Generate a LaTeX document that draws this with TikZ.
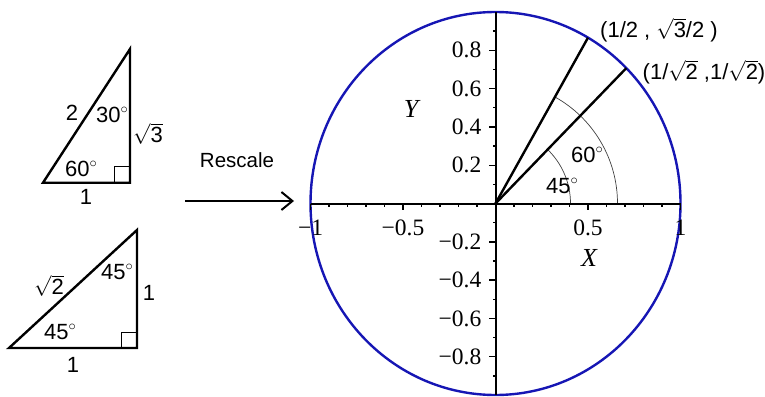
\documentclass[tikz,border=0pt]{standalone}
\usepackage{fontspec}
\setmainfont{Liberation Serif}
\newfontfamily\arialf{Liberation Sans}
\usetikzlibrary{arrows.meta}
\definecolor{circblue}{RGB}{22,22,180}
\newcommand{\degsym}{\raisebox{0.42em}{\fontsize{15}{15}\selectfont\(\circ\)}}
\newcommand{\sqrtx}[1]{\(\sqrt{\hbox{#1}}\)}
\begin{document}
\begin{tikzpicture}[x=1pt,y=-1pt,
  tri/.style={line width=2.4pt, line join=miter},
  rsq/.style={line width=0.8pt},
  lab/.style={font=\arialf\fontsize{22}{22}\selectfont, inner sep=0pt},
  rlab/.style={font=\arialf\fontsize{20.5}{20.5}\selectfont, inner sep=0pt},
  clab/.style={font=\arialf\fontsize{22}{22}\selectfont, inner sep=0pt},
  axl/.style={font=\fontsize{23.5}{23.5}\selectfont, inner sep=0pt},
  varl/.style={font=\itshape\fontsize{26}{26}\selectfont, inner sep=0pt},
  axisline/.style={line width=2pt},
  ray/.style={line width=2.4pt},
  thinarc/.style={line width=0.7pt, black!75},
  circ/.style={circblue, line width=2.4pt},
  tick/.style={line width=1.4pt}]
\useasboundingbox (0,0) rectangle (765,396);

% ---------- triangle 30-60-90 ----------
\coordinate (A1) at (43,182.7);
\coordinate (B1) at (130,182.7);
\coordinate (C1) at (130,49);
\draw[tri] (A1) -- (B1) -- (C1) -- cycle;
\draw[rsq] (114,182.7) -- (114,166.7) -- (130,166.7);
\node[lab] (t1hyp) at (72,113) {2};
\node[lab] (t1a30) at (112,115) {30\degsym};
\node[lab] (t1s3) at (148,134) {\sqrtx{3}};
\node[lab] (t1a60) at (81,169) {60\degsym};
\node[lab] (t1b) at (86,197) {1};

% ---------- triangle 45-45-90 ----------
\coordinate (A2) at (9,348);
\coordinate (B2) at (137,348);
\coordinate (C2) at (137,230);
\draw[tri] (A2) -- (B2) -- (C2) -- cycle;
\draw[rsq] (121,348) -- (121,332) -- (137,332);
\node[lab] (t2hyp) at (49,286) {\sqrtx{2}};
\node[lab] (t2a1) at (117,272) {45\degsym};
\node[lab] (t2r) at (149,293) {1};
\node[lab] (t2a2) at (60,332) {45\degsym};
\node[lab] (t2b) at (73,365) {1};

% ---------- arrow ----------
\coordinate (arrS) at (185,201);
\coordinate (arrE) at (294,201);
\draw[line width=2pt, -{Straight Barb[length=11pt,width=18pt,line width=2pt]}] (arrS) -- (arrE);
\node[rlab] (resc) at (237,160) {Rescale};

% ---------- unit circle ----------
\coordinate (O) at (495.5,203.5);
\draw[circ] (O) ellipse [x radius=185pt, y radius=191.5pt];
\draw[thinarc] ([xshift=75pt]O) arc[start angle=0, end angle=46, radius=75pt];
\draw[thinarc] ([xshift=122pt]O) arc[start angle=0, end angle=61, radius=122pt];
\begin{scope}[shift={(O)}, x=185pt, y=191.5pt]
  \draw[axisline] (-1,0) -- (1,0);
  \draw[axisline] (0,-1) -- (0,1);
  \foreach \i in {-10,...,-1,1,2,...,10}
    \draw[tick] (\i/10,0) -- ++(0,-3pt);
  \foreach \i in {-10,-5,5,10}
    \draw[tick] (\i/10,0) -- ++(0,-6pt);
  \foreach \j in {-9,...,-1,1,2,...,9}
    \draw[tick] (0,\j/10) -- ++(-3pt,0);
  \foreach \j in {-8,-6,-4,-2,2,4,6,8}
    \draw[tick] (0,\j/10) -- ++(-7pt,0);
  \node[axl] (xm1) at ([yshift=-24pt]-1,0) {−1};
  \node[axl] (xm05) at ([yshift=-24pt]-0.5,0) {−0.5};
  \node[axl] (xp05) at ([yshift=-24pt]0.5,0) {0.5};
  \node[axl] (xp1) at ([yshift=-24pt]1,0) {1};
  \foreach \v/\t in {8/0.8,6/0.6,4/0.4,2/0.2,-2/−0.2,-4/−0.4,-6/−0.6,-8/−0.8}
    \node[axl, anchor=east] (yl\v) at ([xshift=-14pt]0,\v/10) {\t};
  \coordinate (P60) at (0.5,0.866);
  \coordinate (P45) at (0.7071,0.7071);
\end{scope}
\draw[ray] (O) -- (P60);
\draw[ray] (O) -- (P45);
\node[varl] (xl) at (589,258) {X};
\node[varl] (yl) at (411,109) {Y};
\node[lab] (a45) at (562,186) {45\degsym};
\node[lab] (a60) at (587,155) {60\degsym};
\node[clab] (c60) at (659,30) {(1/2 , \sqrtx{3}/2 )};
\node[clab] (c45) at (704,72) {(1/\sqrtx{2} ,1/\sqrtx{2})};
\end{tikzpicture}
\end{document}
